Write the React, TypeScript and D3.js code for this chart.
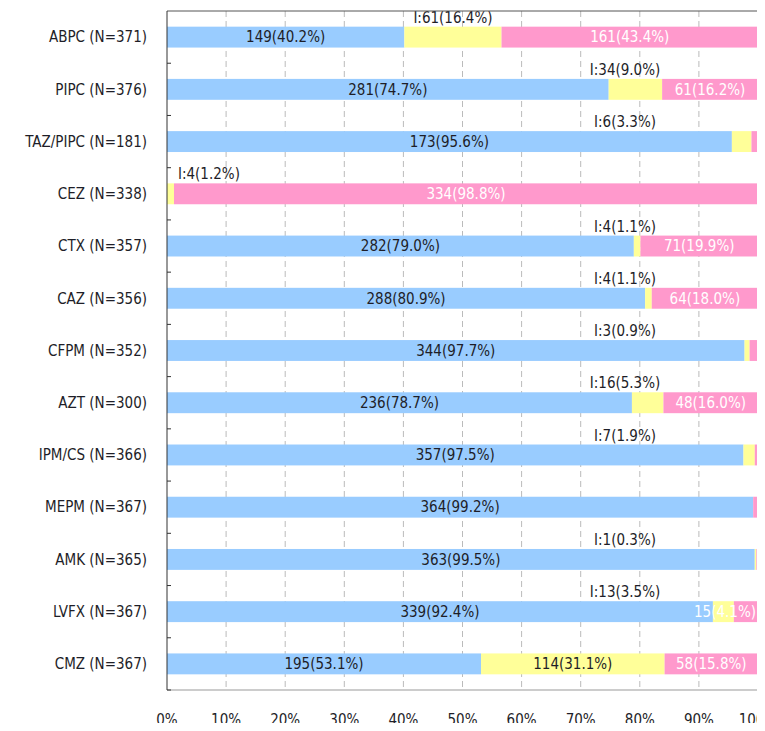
import React from 'react';
import { scaleLinear, scaleBand, range } from 'd3';

// drug categories with sample counts: susceptible / intermediate / resistant
const drugs = ['ABPC', 'PIPC', 'TAZ/PIPC', 'CEZ', 'CTX', 'CAZ', 'CFPM', 'AZT', 'IPM/CS', 'MEPM', 'AMK', 'LVFX', 'CMZ'];
const countS = [149, 281, 173, 0, 282, 288, 344, 236, 357, 364, 363, 339, 195];
const countI = [61, 34, 6, 4, 4, 4, 3, 16, 7, 0, 1, 13, 114];
const countR = [161, 61, 2, 334, 71, 64, 5, 48, 2, 3, 1, 15, 58];
const xTicks = [0, 0.1, 0.2, 0.3, 0.4, 0.5, 0.6, 0.7, 0.8, 0.9, 1];

const W = 757;
const H = 723;
const margin = { top: 3, right: 7, bottom: 41, left: 159 };
const FONT = '"DejaVu Sans Condensed", "DejaVu Sans", sans-serif';
const colS = '#99ccff';
const colI = '#ffff99';
const colR = '#ff99cc';
const textDark = '#1e1e28';

const fmt = (n: number, total: number) => `${n}(${((n / total) * 100).toFixed(1)}%)`;
const textW = (s: string) => s.length * 7.1;

export default function App() {
  const x = scaleLinear().domain([0, 1]).range([margin.left, W - margin.right]);
  const y = scaleBand<string>()
    .domain(drugs)
    .range([margin.top, H - margin.bottom])
    .paddingInner(0.6)
    .paddingOuter(0.3);
  const step = y.step();
  const bw = y.bandwidth();
  const x0 = x(0);
  const x1 = x(1);

  const rows = drugs.map((d, i) => {
    const n = countS[i] + countI[i] + countR[i];
    const a = countS[i] / n;
    const b = (countS[i] + countI[i]) / n;
    return { d, i, n, a, b };
  });

  return (
    <svg width={W} height={H} style={{ display: 'block', marginBottom: -8 }} fontFamily={FONT} fontSize={15}>
      <defs>
        <clipPath id="plot">
          <rect x={x0} y={margin.top} width={x1 - x0} height={H - margin.bottom - margin.top} />
        </clipPath>
      </defs>
      {/* grid */}
      {xTicks.slice(1, -1).map(t => (
        <line key={t} x1={x(t)} x2={x(t)} y1={margin.top} y2={H - margin.bottom}
          stroke="#bbb" strokeDasharray="6,4" />
      ))}
      {/* bars */}
      {rows.map(r => {
        const yy = y(r.d)!;
        return (
          <g key={r.d}>
            <rect x={x0} y={yy} width={x(r.a) - x0} height={bw} fill={colS} />
            <rect x={x(r.a)} y={yy} width={x(r.b) - x(r.a)} height={bw} fill={colI} />
            <rect x={x(r.b)} y={yy} width={x1 - x(r.b)} height={bw} fill={colR} />
          </g>
        );
      })}
      {/* labels */}
      <g clipPath="url(#plot)">
        {rows.map(r => {
          const yy = y(r.d)! + bw / 2;
          const sTxt = fmt(countS[r.i], r.n);
          const iTxt = fmt(countI[r.i], r.n);
          const rTxt = fmt(countR[r.i], r.n);
          const out: React.ReactNode[] = [];
          if (countS[r.i] > 0) {
            out.push(
              <text key="s" x={(x0 + x(r.a)) / 2} y={yy} dy="0.35em" textAnchor="middle" fill={textDark}>{sTxt}</text>
            );
          }
          if (countI[r.i] > 0) {
            const iPct = countI[r.i] / r.n;
            if (iPct >= 0.2) {
              out.push(
                <text key="i" x={(x(r.a) + x(r.b)) / 2} y={yy} dy="0.35em" textAnchor="middle" fill={textDark}>{iTxt}</text>
              );
            } else {
              const t = 'I:' + iTxt;
              let cx = Math.min((x(r.a) + x(r.b)) / 2, x(0.775));
              cx = Math.max(cx, x0 + 10 + textW(t) / 2);
              out.push(
                <text key="i" x={cx} y={yy - bw / 2 - 4} textAnchor="middle" fill={textDark}>{t}</text>
              );
            }
          }
          const rPct = countR[r.i] / r.n;
          if (rPct >= 0.04) {
            const segW = x1 - x(r.b);
            const fits = segW > textW(rTxt) + 6;
            out.push(
              <text key="r" x={fits ? (x(r.b) + x1) / 2 : x1 - 2} y={yy} dy="0.35em"
                textAnchor={fits ? 'middle' : 'end'} fill="#fff">{rTxt}</text>
            );
          }
          return <g key={r.d}>{out}</g>;
        })}
      </g>
      {/* frame */}
      <line x1={x0} x2={x1} y1={margin.top} y2={margin.top} stroke="#555" />
      <line x1={x1} x2={x1} y1={margin.top} y2={H - margin.bottom} stroke="#aaa" />
      <line x1={x0} x2={x1} y1={H - margin.bottom} y2={H - margin.bottom} stroke="#999" />
      <line x1={x0} x2={x0} y1={margin.top} y2={H - margin.bottom} stroke="#333" />
      {range(1, drugs.length + 1).map(k => (
        <line key={k} x1={x0} x2={x0 + 4} y1={margin.top + k * step} y2={margin.top + k * step} stroke="#333" />
      ))}
      {/* y axis labels */}
      {drugs.map((d, i) => (
        <text key={d} x={x0 - 20} y={y(d)! + bw / 2} dy="0.35em" textAnchor="end" fill={textDark}>
          {`${d} (N=${countS[i] + countI[i] + countR[i]})`}
        </text>
      ))}
      {/* x axis labels */}
      {xTicks.map(t => (
        <text key={t} x={x(t)} y={H - margin.bottom + 30} dy="0.35em" textAnchor="middle" fill={textDark}>
          {`${Math.round(t * 100)}%`}
        </text>
      ))}
    </svg>
  );
}
